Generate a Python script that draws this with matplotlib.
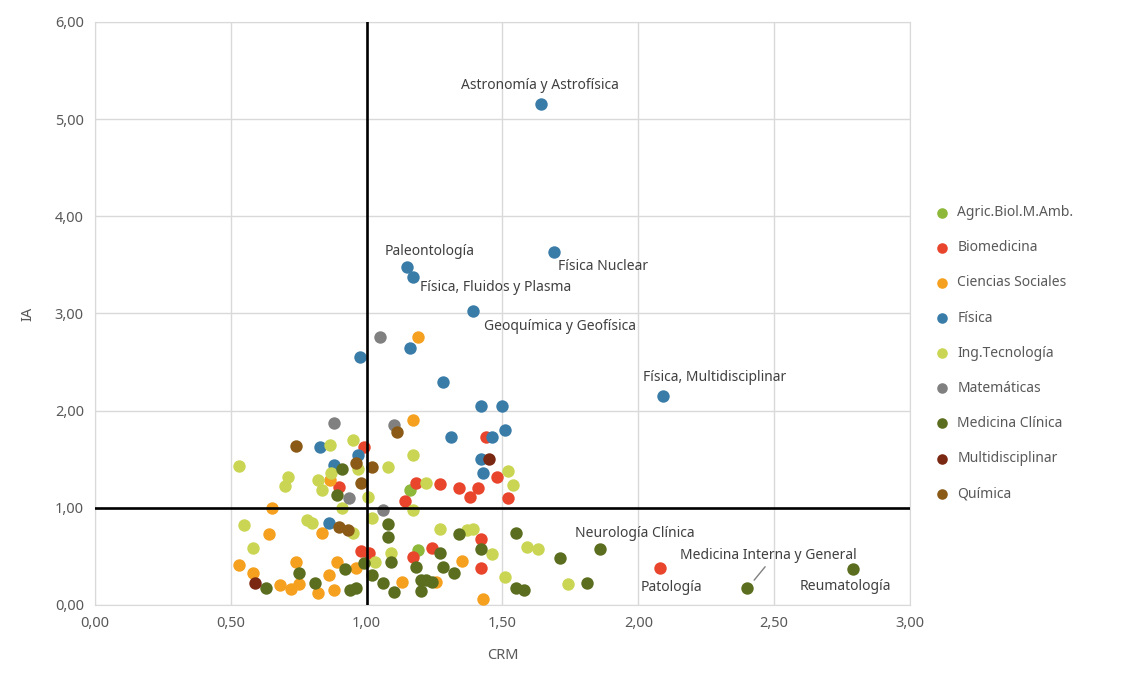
import matplotlib.pyplot as plt
from matplotlib.ticker import FuncFormatter, MultipleLocator

plt.rcParams['font.family'] = ['Noto Sans', 'DejaVu Sans']

# CRM (x) and IA (y) per subject area
fisica_x = [1.64, 1.69, 1.15, 1.17, 1.39, 2.09, 1.16, 0.975, 1.28, 1.42, 1.50, 1.31, 1.51, 1.46,
            0.83, 0.97, 1.42, 1.43, 0.88, 0.86]
fisica_y = [5.16, 3.63, 3.48, 3.38, 3.03, 2.15, 2.64, 2.55, 2.29, 2.05, 2.05, 1.73, 1.80, 1.73,
            1.63, 1.54, 1.50, 1.36, 1.44, 0.84]

mat_x = [1.05, 0.88, 1.10, 0.935, 1.06]
mat_y = [2.76, 1.87, 1.85, 1.10, 0.98]

soc_x = [1.19, 1.17, 0.865, 0.65, 0.64, 0.835, 0.53, 0.74, 0.89, 0.96, 0.58, 0.86, 0.68, 0.72,
         0.75, 0.88, 0.82, 1.35, 1.13, 1.255, 1.43]
soc_y = [2.76, 1.90, 1.29, 1.00, 0.73, 0.74, 0.41, 0.44, 0.44, 0.38, 0.33, 0.31, 0.21, 0.16,
         0.22, 0.15, 0.12, 0.45, 0.24, 0.24, 0.06]

bio_x = [0.99, 0.90, 1.44, 1.48, 1.18, 1.27, 1.34, 1.41, 1.38, 1.52, 1.14, 0.98, 1.01, 1.42,
         1.17, 1.24, 1.42, 2.08]
bio_y = [1.63, 1.21, 1.73, 1.32, 1.26, 1.24, 1.20, 1.20, 1.11, 1.10, 1.07, 0.56, 0.53, 0.68,
         0.49, 0.59, 0.38, 0.38]

multi_x = [1.45, 0.59]
multi_y = [1.50, 0.23]

quim_x = [0.74, 0.96, 1.02, 0.98, 0.90, 0.93, 1.11]
quim_y = [1.64, 1.46, 1.42, 1.26, 0.80, 0.77, 1.78]

ing_x = [0.865, 0.95, 0.53, 0.97, 1.08, 0.71, 0.70, 0.82, 0.87, 0.835, 1.005, 0.91, 1.02, 0.55,
         0.78, 0.80, 0.95, 0.58, 1.09, 1.03, 1.17, 1.22, 1.52, 1.54, 1.17, 1.27, 1.37, 1.39,
         1.46, 1.59, 1.63, 1.51, 1.74]
ing_y = [1.65, 1.70, 1.43, 1.40, 1.42, 1.32, 1.22, 1.29, 1.36, 1.18, 1.11, 1.00, 0.90, 0.82,
         0.87, 0.84, 0.74, 0.59, 0.53, 0.44, 1.54, 1.26, 1.38, 1.23, 0.98, 0.78, 0.77, 0.78,
         0.52, 0.60, 0.58, 0.29, 0.22]

med_x = [1.86, 2.40, 2.79, 0.91, 0.89, 1.08, 1.08, 1.09, 0.99, 0.92, 0.75, 1.02, 0.63, 0.81,
         0.94, 0.96, 1.06, 1.10, 1.34, 1.55, 1.42, 1.27, 1.71, 1.18, 1.28, 1.32, 1.20, 1.22,
         1.24, 1.20, 1.55, 1.58, 1.81]
med_y = [0.58, 0.17, 0.37, 1.40, 1.13, 0.83, 0.70, 0.44, 0.43, 0.37, 0.33, 0.31, 0.17, 0.23,
         0.15, 0.17, 0.23, 0.13, 0.73, 0.74, 0.58, 0.53, 0.48, 0.39, 0.39, 0.33, 0.26, 0.26,
         0.24, 0.14, 0.17, 0.15, 0.23]

agric_x = [1.16, 1.19]
agric_y = [1.18, 0.57]

series = [
    ("Agric.Biol.M.Amb.", agric_x, agric_y, "#8DB83A"),
    ("Biomedicina", bio_x, bio_y, "#E8452C"),
    ("Ciencias Sociales", soc_x, soc_y, "#F5A01E"),
    ("Física", fisica_x, fisica_y, "#3A7CA8"),
    ("Ing.Tecnología", ing_x, ing_y, "#CAD653"),
    ("Matemáticas", mat_x, mat_y, "#808080"),
    ("Medicina Clínica", med_x, med_y, "#5B6E1F"),
    ("Multidisciplinar", multi_x, multi_y, "#7A2812"),
    ("Química", quim_x, quim_y, "#8B5A16"),
]

# labelled points: text, x, y, ha
labels = [
    ("Astronomía y Astrofísica", 1.637, 5.35, "center"),
    ("Paleontología", 1.233, 3.64, "center"),
    ("Física Nuclear", 1.704, 3.48, "left"),
    ("Física, Fluidos y Plasma", 1.196, 3.27, "left"),
    ("Geoquímica y Geofísica", 1.432, 2.87, "left"),
    ("Física, Multidisciplinar", 2.017, 2.34, "left"),
    ("Neurología Clínica", 1.767, 0.74, "left"),
    ("Patología", 2.01, 0.175, "left"),
    ("Reumatología", 2.595, 0.195, "left"),
]

fig = plt.figure(figsize=(11.21, 6.78), dpi=100)
ax = fig.add_axes([0.0847, 0.1077, 0.7271, 0.8599])

for name, xs, ys, col in series:
    ax.scatter(xs, ys, s=80, color=col, label=name, zorder=3, linewidths=0)

ax.axvline(1.0, color="black", lw=1.9, zorder=4)
ax.axhline(1.0, color="black", lw=1.9, zorder=4)

for txt, tx, ty, ha in labels:
    ax.text(tx, ty, txt, ha=ha, va="center", fontsize=10, color="#404040", zorder=5)

ax.annotate("Medicina Interna y General", xy=(2.41, 0.20), xytext=(2.153, 0.51),
            fontsize=10, color="#404040", va="center", ha="left",
            arrowprops=dict(arrowstyle="-", color="#808080", lw=1,
                            shrinkA=1, shrinkB=5, relpos=(0.5, 0.0)))

ax.set_xlim(0, 3)
ax.set_ylim(0, 6)
ax.xaxis.set_major_locator(MultipleLocator(0.5))
ax.yaxis.set_major_locator(MultipleLocator(1.0))
fmt = FuncFormatter(lambda v, p: "{:.2f}".format(v).replace(".", ","))
ax.xaxis.set_major_formatter(fmt)
ax.yaxis.set_major_formatter(fmt)
ax.grid(True, color="#D9D9D9", lw=1)
ax.set_axisbelow(True)
for sp in ax.spines.values():
    sp.set_color("#D9D9D9")
ax.tick_params(length=0, labelsize=10.5, labelcolor="#595959", pad=8)
ax.set_xlabel("CRM", fontsize=10.5, color="#595959", labelpad=12)
ax.set_ylabel("IA", fontsize=10.5, color="#595959", labelpad=14)

fig.legend(loc="center left", bbox_to_anchor=(0.823, 0.479), frameon=False,
           fontsize=10, labelcolor="#595959", handletextpad=0.1, labelspacing=1.45,
           markerscale=0.85, borderaxespad=0)

fig.savefig("out.png", dpi=100)
